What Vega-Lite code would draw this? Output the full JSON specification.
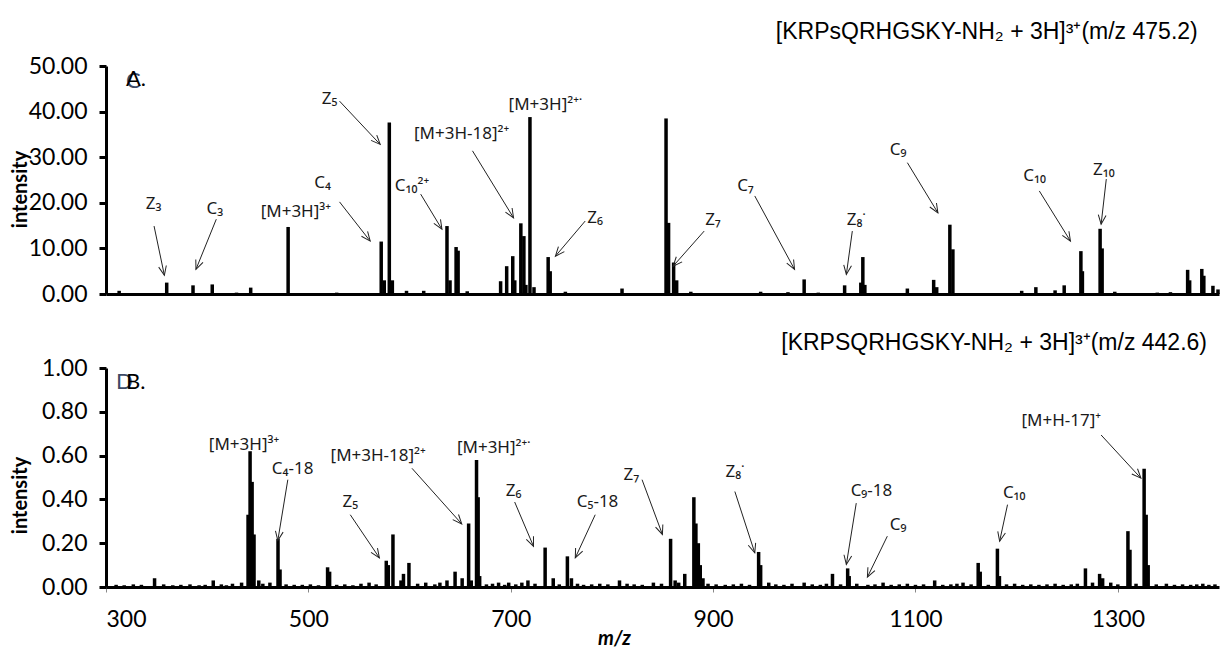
{
  "$schema": "https://vega.github.io/schema/vega-lite/v6.json",
  "background": "white",
  "padding": {"left": 10, "top": 21, "right": 3, "bottom": 0},
  "spacing": 26,
  "config": {
    "view": {"stroke": null},
    "axis": {"grid": false, "domainColor": "black", "domainWidth": 3, "tickColor": "black", "labelColor": "black", "titleColor": "black", "labelFont": "Lato", "titleFont": "Lato"},
    "title": {"font": "Liberation Sans", "fontSize": 23, "fontWeight": "normal", "color": "black", "anchor": "end"}
  },
  "datasets": {
    "specA": [
      {"mz": 313, "i": 0.7}, {"mz": 360, "i": 2.5}, {"mz": 386, "i": 1.9}, {"mz": 405, "i": 2.1}, {"mz": 429, "i": 0.3},
      {"mz": 443, "i": 1.4}, {"mz": 480, "i": 14.7}, {"mz": 528, "i": 0.3}, {"mz": 572, "i": 11.5}, {"mz": 575, "i": 3},
      {"mz": 580, "i": 37.6}, {"mz": 583, "i": 3}, {"mz": 597, "i": 0.7}, {"mz": 614, "i": 0.7}, {"mz": 637, "i": 14.9},
      {"mz": 640, "i": 3}, {"mz": 646, "i": 10.3}, {"mz": 648, "i": 9.5}, {"mz": 657, "i": 0.6}, {"mz": 690, "i": 2.8},
      {"mz": 696, "i": 6.1}, {"mz": 702, "i": 8.3}, {"mz": 704, "i": 3}, {"mz": 710, "i": 15.5}, {"mz": 713, "i": 12.7},
      {"mz": 715, "i": 2}, {"mz": 719, "i": 38.8}, {"mz": 723, "i": 1.5}, {"mz": 737, "i": 8.1}, {"mz": 739, "i": 5},
      {"mz": 754, "i": 0.5}, {"mz": 810, "i": 1.2}, {"mz": 853.5, "i": 38.5}, {"mz": 856, "i": 15.6}, {"mz": 861, "i": 6.9},
      {"mz": 864, "i": 3}, {"mz": 878, "i": 0.5}, {"mz": 947, "i": 0.5}, {"mz": 974, "i": 0.4}, {"mz": 990, "i": 3.2},
      {"mz": 1004, "i": 0.3}, {"mz": 1030, "i": 1.9}, {"mz": 1046, "i": 2.5}, {"mz": 1048, "i": 8.1}, {"mz": 1050, "i": 2},
      {"mz": 1092, "i": 1.2}, {"mz": 1118, "i": 3.1}, {"mz": 1121, "i": 1.5}, {"mz": 1134, "i": 15.2}, {"mz": 1137, "i": 9.8},
      {"mz": 1205, "i": 0.7}, {"mz": 1219, "i": 1.5}, {"mz": 1238, "i": 0.8}, {"mz": 1247, "i": 1.9}, {"mz": 1263.5, "i": 9.4},
      {"mz": 1265, "i": 5}, {"mz": 1282.5, "i": 14.3}, {"mz": 1284.5, "i": 10}, {"mz": 1297, "i": 0.5}, {"mz": 1339, "i": 0.3},
      {"mz": 1352, "i": 0.4}, {"mz": 1369, "i": 5.3}, {"mz": 1371, "i": 3}, {"mz": 1383, "i": 5.5}, {"mz": 1385, "i": 4},
      {"mz": 1394, "i": 1.8}, {"mz": 1399, "i": 1}
    ],
    "specB": [
      {"mz": 348, "i": 0.04}, {"mz": 406, "i": 0.03}, {"mz": 425, "i": 0.015}, {"mz": 434, "i": 0.02}, {"mz": 440.4, "i": 0.33},
      {"mz": 442.4, "i": 0.62}, {"mz": 444.4, "i": 0.48}, {"mz": 446.3, "i": 0.24}, {"mz": 451, "i": 0.03}, {"mz": 462, "i": 0.02},
      {"mz": 470, "i": 0.22}, {"mz": 472, "i": 0.08}, {"mz": 486, "i": 0.01}, {"mz": 519, "i": 0.09}, {"mz": 521, "i": 0.07},
      {"mz": 560, "i": 0.02}, {"mz": 577, "i": 0.12}, {"mz": 579, "i": 0.1}, {"mz": 583.6, "i": 0.24}, {"mz": 591.5, "i": 0.03},
      {"mz": 594, "i": 0.06}, {"mz": 599.4, "i": 0.11}, {"mz": 616, "i": 0.02}, {"mz": 637, "i": 0.03}, {"mz": 645, "i": 0.07},
      {"mz": 652, "i": 0.04}, {"mz": 658.4, "i": 0.29}, {"mz": 661, "i": 0.03}, {"mz": 666.2, "i": 0.58}, {"mz": 667.8, "i": 0.41},
      {"mz": 669.3, "i": 0.05}, {"mz": 688, "i": 0.02}, {"mz": 698, "i": 0.02}, {"mz": 717, "i": 0.03}, {"mz": 734, "i": 0.18},
      {"mz": 742, "i": 0.04}, {"mz": 756, "i": 0.14}, {"mz": 760, "i": 0.04}, {"mz": 807.5, "i": 0.03}, {"mz": 841, "i": 0.02},
      {"mz": 858, "i": 0.22}, {"mz": 862.5, "i": 0.03}, {"mz": 872, "i": 0.06}, {"mz": 881, "i": 0.41}, {"mz": 883, "i": 0.29},
      {"mz": 885.4, "i": 0.2}, {"mz": 887.3, "i": 0.1}, {"mz": 890, "i": 0.04}, {"mz": 945, "i": 0.16}, {"mz": 947, "i": 0.1},
      {"mz": 955, "i": 0.02}, {"mz": 990, "i": 0.02}, {"mz": 1018, "i": 0.06}, {"mz": 1033, "i": 0.085}, {"mz": 1034.5, "i": 0.05},
      {"mz": 1053, "i": 0.01}, {"mz": 1068, "i": 0.02}, {"mz": 1119, "i": 0.03}, {"mz": 1147, "i": 0.02}, {"mz": 1162, "i": 0.11},
      {"mz": 1164, "i": 0.07}, {"mz": 1181, "i": 0.175}, {"mz": 1183, "i": 0.05}, {"mz": 1268, "i": 0.085}, {"mz": 1282, "i": 0.06},
      {"mz": 1285, "i": 0.04}, {"mz": 1293, "i": 0.02}, {"mz": 1310, "i": 0.255}, {"mz": 1312, "i": 0.17}, {"mz": 1326, "i": 0.54},
      {"mz": 1328, "i": 0.33}, {"mz": 1330, "i": 0.1}, {"mz": 1348, "i": 0.015}, {"mz": 1384, "i": 0.015},
      {"mz": 310, "i": 0.01}, {"mz": 318, "i": 0.008}, {"mz": 327, "i": 0.012}, {"mz": 335, "i": 0.01}, {"mz": 357, "i": 0.012},
      {"mz": 366, "i": 0.008}, {"mz": 374, "i": 0.01}, {"mz": 383, "i": 0.012}, {"mz": 392, "i": 0.008}, {"mz": 398, "i": 0.01},
      {"mz": 414, "i": 0.012}, {"mz": 419, "i": 0.008}, {"mz": 455, "i": 0.015}, {"mz": 478, "i": 0.012}, {"mz": 494, "i": 0.01},
      {"mz": 502, "i": 0.012}, {"mz": 510, "i": 0.008}, {"mz": 528, "i": 0.01}, {"mz": 536, "i": 0.012}, {"mz": 544, "i": 0.008},
      {"mz": 552, "i": 0.015}, {"mz": 567, "i": 0.012}, {"mz": 608, "i": 0.015}, {"mz": 625, "i": 0.012}, {"mz": 630, "i": 0.02},
      {"mz": 676, "i": 0.012}, {"mz": 682, "i": 0.015}, {"mz": 694, "i": 0.01}, {"mz": 705, "i": 0.012}, {"mz": 711, "i": 0.02},
      {"mz": 724, "i": 0.015}, {"mz": 748, "i": 0.012}, {"mz": 766, "i": 0.015}, {"mz": 772, "i": 0.01}, {"mz": 780, "i": 0.012},
      {"mz": 788, "i": 0.015}, {"mz": 796, "i": 0.012}, {"mz": 815, "i": 0.015}, {"mz": 822, "i": 0.012}, {"mz": 830, "i": 0.01},
      {"mz": 849, "i": 0.015}, {"mz": 866, "i": 0.02}, {"mz": 895, "i": 0.015}, {"mz": 903, "i": 0.012}, {"mz": 912, "i": 0.01},
      {"mz": 920, "i": 0.012}, {"mz": 928, "i": 0.015}, {"mz": 936, "i": 0.01}, {"mz": 962, "i": 0.012}, {"mz": 970, "i": 0.01},
      {"mz": 978, "i": 0.015}, {"mz": 998, "i": 0.012}, {"mz": 1006, "i": 0.01}, {"mz": 1012, "i": 0.015}, {"mz": 1026, "i": 0.012},
      {"mz": 1042, "i": 0.015}, {"mz": 1060, "i": 0.012}, {"mz": 1076, "i": 0.01}, {"mz": 1084, "i": 0.012}, {"mz": 1092, "i": 0.015},
      {"mz": 1100, "i": 0.01}, {"mz": 1108, "i": 0.012}, {"mz": 1127, "i": 0.01}, {"mz": 1135, "i": 0.012}, {"mz": 1141, "i": 0.015},
      {"mz": 1155, "i": 0.012}, {"mz": 1172, "i": 0.01}, {"mz": 1190, "i": 0.012}, {"mz": 1198, "i": 0.015}, {"mz": 1206, "i": 0.01},
      {"mz": 1214, "i": 0.012}, {"mz": 1222, "i": 0.01}, {"mz": 1230, "i": 0.012}, {"mz": 1238, "i": 0.015}, {"mz": 1246, "i": 0.01},
      {"mz": 1254, "i": 0.012}, {"mz": 1260, "i": 0.015}, {"mz": 1275, "i": 0.02}, {"mz": 1300, "i": 0.012}, {"mz": 1318, "i": 0.015},
      {"mz": 1338, "i": 0.012}, {"mz": 1356, "i": 0.01}, {"mz": 1364, "i": 0.012}, {"mz": 1372, "i": 0.01}, {"mz": 1378, "i": 0.012},
      {"mz": 1390, "i": 0.01}, {"mz": 1396, "i": 0.012}
    ],
    "annA": [
      {"label": "Z₃", "tx": 347, "ty": 19.7, "x1": 347.5, "y1": 14.9, "x2": 357.7, "y2": 4.1},
      {"label": "C₃", "tx": 407.6, "ty": 18.6, "x1": 409, "y1": 16.4, "x2": 388.9, "y2": 5.4},
      {"label": "[M+3H]³⁺", "tx": 487.6, "ty": 18.0},
      {"label": "C₄", "tx": 514, "ty": 24.4, "x1": 530.8, "y1": 20.2, "x2": 561.1, "y2": 11.6},
      {"label": "Z₅", "tx": 521, "ty": 42.7, "x1": 530.8, "y1": 42.3, "x2": 571, "y2": 32.8},
      {"label": "C₁₀²⁺", "tx": 602.4, "ty": 23.7, "x1": 611, "y1": 21.9, "x2": 632, "y2": 14.2},
      {"label": "[M+3H-18]²⁺", "tx": 651.5, "ty": 35.0, "x1": 662.2, "y1": 31.4, "x2": 702.8, "y2": 16.7},
      {"label": "[M+3H]²⁺˙", "tx": 734.2, "ty": 41.4},
      {"label": "Z₆", "tx": 783.4, "ty": 16.7, "x1": 773.6, "y1": 16.0, "x2": 744.2, "y2": 8.3},
      {"label": "Z₇", "tx": 899.9, "ty": 16.2, "x1": 891.2, "y1": 13.8, "x2": 860.5, "y2": 6.1},
      {"label": "C₇", "tx": 932, "ty": 23.7, "x1": 941.2, "y1": 21.5, "x2": 980.5, "y2": 5.4},
      {"label": "Z₈˙", "tx": 1041.5, "ty": 16.2, "x1": 1037.6, "y1": 13.8, "x2": 1031.7, "y2": 4.3},
      {"label": "C₉", "tx": 1082.8, "ty": 31.6, "x1": 1092, "y1": 28.8, "x2": 1122.2, "y2": 17.8},
      {"label": "C₁₀", "tx": 1217.8, "ty": 25.9, "x1": 1222.4, "y1": 22.6, "x2": 1253.2, "y2": 11.6},
      {"label": "Z₁₀", "tx": 1286.2, "ty": 27.2, "x1": 1288.6, "y1": 25.2, "x2": 1283.5, "y2": 15.3}
    ],
    "annB": [
      {"label": "[M+3H]³⁺", "tx": 436.4, "ty": 0.649},
      {"label": "C₄-18", "tx": 484.4, "ty": 0.538, "x1": 479.7, "y1": 0.49, "x2": 469.8, "y2": 0.212},
      {"label": "Z₅", "tx": 541.4, "ty": 0.388, "x1": 541.4, "y1": 0.33, "x2": 570.2, "y2": 0.133},
      {"label": "[M+3H-18]²⁺", "tx": 569, "ty": 0.6, "x1": 602.4, "y1": 0.542, "x2": 651.6, "y2": 0.288},
      {"label": "[M+3H]²⁺˙", "tx": 683.1, "ty": 0.636},
      {"label": "Z₆", "tx": 702.8, "ty": 0.44, "x1": 703.9, "y1": 0.388, "x2": 722.5, "y2": 0.186},
      {"label": "C₅-18", "tx": 785.8, "ty": 0.388, "x1": 783.5, "y1": 0.33, "x2": 763.8, "y2": 0.133},
      {"label": "Z₇", "tx": 819.3, "ty": 0.512, "x1": 829.8, "y1": 0.49, "x2": 849.9, "y2": 0.24},
      {"label": "Z₈˙", "tx": 921.5, "ty": 0.527, "x1": 921.5, "y1": 0.436, "x2": 941.2, "y2": 0.156},
      {"label": "C₉-18", "tx": 1056.5, "ty": 0.44, "x1": 1041.5, "y1": 0.383, "x2": 1031.7, "y2": 0.103},
      {"label": "C₉", "tx": 1082.8, "ty": 0.282, "x1": 1072.2, "y1": 0.232, "x2": 1052.5, "y2": 0.045},
      {"label": "C₁₀", "tx": 1197.6, "ty": 0.429, "x1": 1191, "y1": 0.376, "x2": 1183.2, "y2": 0.209},
      {"label": "[M+H-17]⁺", "tx": 1244.1, "ty": 0.758, "x1": 1283.5, "y1": 0.694, "x2": 1322.8, "y2": 0.497}
    ]
  },
  "vconcat": [
    {
      "width": 1113,
      "height": 228,
      "title": {"text": "[KRPsQRHGSKY-NH₂ + 3H]³⁺(m/z 475.2)", "offset": 11, "dx": -22},
      "layer": [
        {
          "data": {"name": "specA"},
          "mark": {"type": "rule", "strokeWidth": 3.5, "color": "black"},
          "encoding": {
            "x": {"field": "mz", "type": "quantitative", "scale": {"domain": [300, 1400], "nice": false, "zero": false},
                  "axis": {"labels": false, "ticks": false, "title": null}},
            "y": {"field": "i", "type": "quantitative", "scale": {"domain": [0, 50], "nice": false},
                  "axis": {"title": "intensity", "values": [0, 10, 20, 30, 40, 50], "format": ".2f", "labelFontSize": 23,
                           "tickSize": 7, "tickWidth": 3, "labelPadding": 12, "titleFontSize": 20, "titleFontWeight": "bold",
                           "titleAngle": 270, "titleBaseline": "bottom", "titleAlign": "center", "titleX": -76, "titleY": 123}},
            "y2": {"datum": 0}
          }
        },
        {
          "data": {"name": "annA"},
          "transform": [{"filter": "isValid(datum.x1)"}],
          "mark": {"type": "rule", "strokeWidth": 1, "color": "#222"},
          "encoding": {
            "x": {"field": "x1", "type": "quantitative"},
            "y": {"field": "y1", "type": "quantitative"},
            "x2": {"field": "x2"},
            "y2": {"field": "y2"}
          }
        },
        {
          "data": {"name": "annA"},
          "transform": [
            {"filter": "isValid(datum.x1)"},
            {"calculate": "atan2((datum.x2-datum.x1)*1.0118, (datum.y2-datum.y1)*4.56)*180/PI", "as": "ang"}
          ],
          "mark": {"type": "point", "shape": "M-0.55,1.3L0,0L0.55,1.3", "filled": false, "size": 200, "strokeWidth": 1, "color": "#222", "opacity": 1},
          "encoding": {
            "x": {"field": "x2", "type": "quantitative"},
            "y": {"field": "y2", "type": "quantitative"},
            "angle": {"field": "ang", "type": "quantitative", "scale": null}
          }
        },
        {
          "data": {"name": "annA"},
          "mark": {"type": "text", "font": "Noto Sans", "fontSize": 17, "color": "#1a1a1a", "align": "center", "baseline": "middle"},
          "encoding": {
            "x": {"field": "tx", "type": "quantitative"},
            "y": {"field": "ty", "type": "quantitative"},
            "text": {"field": "label"}
          }
        },
        {
          "data": {"values": [{"t": "C", "mz": 319.7, "v": 45.2}]},
          "mark": {"type": "text", "font": "Lato", "fontSize": 22, "color": "#3c4a66", "align": "left", "baseline": "alphabetic"},
          "encoding": {"x": {"field": "mz", "type": "quantitative"}, "y": {"field": "v", "type": "quantitative"}, "text": {"field": "t"}}
        },
        {
          "data": {"values": [{"t": "A.", "mz": 319.7, "v": 45.6}]},
          "mark": {"type": "text", "font": "Lato", "fontSize": 22, "color": "black", "align": "left", "baseline": "alphabetic"},
          "encoding": {"x": {"field": "mz", "type": "quantitative"}, "y": {"field": "v", "type": "quantitative"}, "text": {"field": "t"}}
        }
      ]
    },
    {
      "width": 1113,
      "height": 219,
      "title": {"text": "[KRPSQRHGSKY-NH₂ + 3H]³⁺(m/z 442.6)", "offset": 2, "dx": -12},
      "layer": [
        {
          "data": {"name": "specB"},
          "mark": {"type": "rule", "strokeWidth": 3.5, "color": "black"},
          "encoding": {
            "x": {"field": "mz", "type": "quantitative", "scale": {"domain": [300, 1400], "nice": false, "zero": false},
                  "axis": {"title": "m/z", "values": [300, 500, 700, 900, 1100, 1300], "format": "d", "labelFontSize": 23,
                           "tickSize": 5, "tickWidth": 1, "tickColor": "#888", "labelPadding": 16, "titleFontSize": 20,
                           "titleFontWeight": "bold", "titleFontStyle": "italic", "titleX": 508, "titleY": 51, "titleBaseline": "middle", "titleAlign": "center"}},
            "y": {"field": "i", "type": "quantitative", "scale": {"domain": [0, 1], "nice": false},
                  "axis": {"title": "intensity", "values": [0, 0.2, 0.4, 0.6, 0.8, 1], "format": ".2f", "labelFontSize": 23,
                           "tickSize": 7, "tickWidth": 3, "labelPadding": 12, "titleFontSize": 20, "titleFontWeight": "bold",
                           "titleAngle": 270, "titleBaseline": "bottom", "titleAlign": "center", "titleX": -76, "titleY": 127}},
            "y2": {"datum": 0}
          }
        },
        {
          "data": {"name": "annB"},
          "transform": [{"filter": "isValid(datum.x1)"}],
          "mark": {"type": "rule", "strokeWidth": 1, "color": "#222"},
          "encoding": {
            "x": {"field": "x1", "type": "quantitative"},
            "y": {"field": "y1", "type": "quantitative"},
            "x2": {"field": "x2"},
            "y2": {"field": "y2"}
          }
        },
        {
          "data": {"name": "annB"},
          "transform": [
            {"filter": "isValid(datum.x1)"},
            {"calculate": "atan2((datum.x2-datum.x1)*1.0118, (datum.y2-datum.y1)*219)*180/PI", "as": "ang"}
          ],
          "mark": {"type": "point", "shape": "M-0.55,1.3L0,0L0.55,1.3", "filled": false, "size": 200, "strokeWidth": 1, "color": "#222", "opacity": 1},
          "encoding": {
            "x": {"field": "x2", "type": "quantitative"},
            "y": {"field": "y2", "type": "quantitative"},
            "angle": {"field": "ang", "type": "quantitative", "scale": null}
          }
        },
        {
          "data": {"name": "annB"},
          "mark": {"type": "text", "font": "Noto Sans", "fontSize": 17, "color": "#1a1a1a", "align": "center", "baseline": "middle"},
          "encoding": {
            "x": {"field": "tx", "type": "quantitative"},
            "y": {"field": "ty", "type": "quantitative"},
            "text": {"field": "label"}
          }
        },
        {
          "data": {"values": [{"t": "D", "mz": 310, "v": 0.905}]},
          "mark": {"type": "text", "font": "Lato", "fontSize": 22, "color": "#3c4a66", "align": "left", "baseline": "alphabetic"},
          "encoding": {"x": {"field": "mz", "type": "quantitative"}, "y": {"field": "v", "type": "quantitative"}, "text": {"field": "t"}}
        },
        {
          "data": {"values": [{"t": "B.", "mz": 319.7, "v": 0.905}]},
          "mark": {"type": "text", "font": "Lato", "fontSize": 22, "color": "black", "align": "left", "baseline": "alphabetic"},
          "encoding": {"x": {"field": "mz", "type": "quantitative"}, "y": {"field": "v", "type": "quantitative"}, "text": {"field": "t"}}
        }
      ]
    }
  ]
}
